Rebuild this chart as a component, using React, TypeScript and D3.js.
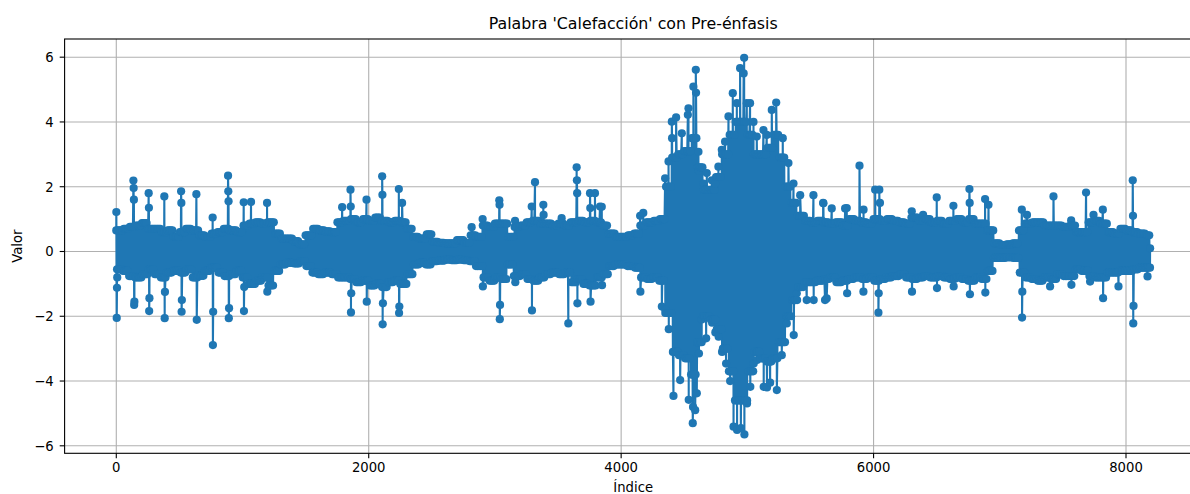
import React from "react";
import * as d3 from "d3";

// ---- data ----
const sampleCount = 8192;
const envStep = 50; // envelope read every 50 samples

// solid body of the signal: upper / lower extent read every 50 samples (index = k*50)
const envHigh = [
  0.65, 0.7, 0.76, 0.8, 0.88, 0.7, 0.7, 0.6, 0.65, 0.45, 0.6, 0.7, 0.65, 0.5, 0.45, 0.55, 0.6, 0.7, 0.65, 0.6,
  0.8, 0.86, 0.9, 0.86, 0.9, 0.55, 0.4, 0.4, 0.32, 0.22, 0.5, 0.7, 0.65, 0.62, 0.6, 0.9, 0.95, 1.0, 0.9, 1.0,
  0.95, 1.05, 0.95, 0.9, 0.95, 0.9, 0.7, 0.45, 0.4, 0.53, 0.3, 0.27, 0.25, 0.25, 0.35, 0.27, 0.5, 0.45, 0.8, 0.76,
  0.86, 0.86, 0.45, 0.76, 0.8, 0.9, 0.95, 0.86, 0.86, 0.8, 0.86, 0.8, 0.9, 0.95, 0.9, 0.95, 0.9, 0.8, 0.55, 0.45,
  0.45, 0.5, 0.55, 0.8, 0.9, 0.95, 1.0, 2.0, 2.9, 3.0, 3.1, 3.5, 2.6, 1.9, 1.9, 2.3, 3.0, 3.6, 4.0, 4.0,
  3.6, 3.0, 3.0, 3.2, 3.6, 2.9, 2.0, 1.5, 1.1, 0.95, 0.9, 0.95, 0.9, 0.86, 0.9, 0.8, 1.0, 0.95, 0.9, 0.86,
  1.0, 0.95, 1.0, 0.95, 0.9, 0.86, 1.05, 0.95, 1.0, 0.9, 0.95, 0.86, 0.95, 1.0, 0.9, 1.0, 0.86, 0.86, 0.65, 0.25,
  0.2, 0.22, 0.25, 0.65, 0.86, 0.9, 0.9, 0.8, 0.8, 0.8, 0.76, 0.8, 0.6, 0.6, 0.9, 0.95, 0.86, 0.6, 0.55, 0.7,
  0.65, 0.6, 0.55, 0.5,
];
const envLow = [
  -0.55, -0.6, -0.76, -0.8, -0.7, -0.55, -0.7, -0.8, -0.65, -0.6, -0.65, -0.55, -0.8, -0.75, -0.6, -0.5, -0.65, -0.76, -0.7, -0.6,
  -0.8, -1.0, -0.9, -0.8, -1.05, -0.6, -0.4, -0.35, -0.37, -0.3, -0.45, -0.65, -0.7, -0.65, -0.7, -0.8, -0.8, -0.85, -0.95, -0.9,
  -1.05, -1.0, -1.1, -0.95, -0.9, -1.0, -0.7, -0.4, -0.35, -0.4, -0.3, -0.28, -0.25, -0.27, -0.25, -0.27, -0.3, -0.45, -0.8, -0.9,
  -0.8, -0.85, -0.4, -0.76, -0.7, -0.85, -0.9, -0.8, -0.7, -0.65, -0.7, -0.65, -0.95, -0.85, -1.0, -1.05, -0.8, -0.7, -0.45, -0.4,
  -0.4, -0.45, -0.5, -0.8, -0.85, -0.8, -0.9, -1.9, -3.1, -3.2, -3.3, -3.8, -2.8, -2.0, -2.1, -2.4, -3.0, -3.7, -4.6, -4.6,
  -3.7, -3.1, -3.3, -3.4, -3.3, -2.8, -2.0, -1.5, -1.1, -0.95, -0.95, -0.9, -0.85, -0.8, -0.95, -0.9, -0.85, -0.8, -0.85, -0.8,
  -0.9, -0.85, -0.8, -0.76, -0.7, -0.8, -0.85, -0.8, -0.76, -0.8, -0.76, -0.8, -0.85, -0.8, -0.85, -0.9, -0.8, -0.85, -0.6, -0.2,
  -0.2, -0.18, -0.2, -0.65, -0.8, -0.85, -0.9, -0.8, -0.85, -0.7, -0.76, -0.76, -0.55, -0.6, -0.76, -0.8, -0.8, -0.65, -0.65, -0.6,
  -0.6, -0.55, -0.5, -0.5,
];

// individual samples that stick out of the body
const spikeIndex = [0, 3, 5, 7, 135, 137, 139, 141, 143, 256, 258, 260, 262, 380, 383, 385, 513, 515, 517, 519, 634, 637, 763, 765, 767, 885, 887, 889, 891, 893, 1009, 1011, 1013, 1067, 1194, 1196, 1789, 1855, 1857, 1859, 1861, 1982, 1984, 2106, 2108, 2110, 2112, 2238, 2240, 2242, 2264,
  2815, 2902, 2904, 3034, 3036, 3038, 3040, 3159, 3161, 3291, 3293, 3317, 3383, 3385, 3528, 3581, 3647, 3649, 3651, 3653, 3753, 3755, 3757, 3792, 3832, 3846, 3848, 4150, 4152, 4175, 4322,
  4348, 4350, 4375, 4377, 4401, 4403, 4414, 4435, 4467, 4480, 4528, 4533, 4535, 4567, 4569, 4572, 4586, 4591, 4593, 4599, 4612, 4614, 4616, 4638, 4652, 4673, 4678, 4718, 4720, 4744, 4746, 4770, 4772, 4797, 4799, 4823, 4831, 4850, 4863, 4884, 4890, 4916, 4918, 4942, 4948, 4970, 4974, 4976, 4995, 4997, 5021, 5023, 5048, 5050, 5074, 5076, 5127, 5129, 5153, 5155, 5180, 5193, 5228, 5233, 5272, 5280, 5312, 5325, 5365, 5367, 5391, 5418, 5470, 5523, 5525, 5602, 5628, 5668, 5774, 5790,
  5600, 5615, 5787, 5888, 5919, 5920, 6012, 6038, 6040, 6045, 6050, 6302, 6304, 6392, 6500, 6502, 6632, 6634, 6759, 6761, 6763, 6883, 6885, 6910, 7174, 7176, 7178, 7215, 7398, 7425, 7565, 7567, 7683, 7715, 7742, 7816, 7818, 7940, 8053, 8055, 8057, 8059, 8170];
const spikeValue = [1.22, -2.05, -1.12, -0.8, 2.19, 1.96, 1.6, -1.65, -1.55, 1.8, 1.35, -1.84, -1.44, 1.7, -2.06, -1.25, 1.86, 1.5, -1.86, -1.5, 1.77, -2.11, 1.05, -2.89, -1.86, 2.34, 1.86, 1.55, -2.06, -1.75, 1.52, -1.84, -1.1, 1.53, 1.5, -1.24, 1.37, 1.91, 1.39, -1.88, -1.29, 1.6, -1.55, 2.32, 1.75, -2.25, -1.6, 1.93, -1.9, -1.7, 1.5,
  0.75, 1.0, -1.08, 1.58, 1.44, -2.09, -1.65, 0.95, -0.95, 1.39, -1.82, 2.14, 1.44, 1.13, 1.03, -2.22, 2.6, 2.2, 1.8, -1.6, 1.8, 1.34, -1.55, 1.8, 1.39, 1.38, -1.04, 1.1, -1.24, 1.19, -1.7,
  2.26, -1.8, 2.78, -2.4, 4.01, 3.5, -4.46, 4.14, -3.97, 3.65, 4.22, 4.42, -4.58, -5.3, -4.8, 5.09, -4.9, 5.61, 4.9, -4.38, 3.08, 2.5, -3.15, -2.1, 2.1, -2.68, 2.42, 2.2, -2.2, 2.1, -2.5, 2.62, -2.63, 3.14, -3.1, 3.39, -3.46, 4.17, -4.0, 4.89, -5.41, 4.58, -5.51, 5.66, -5.45, 5.5, 5.98, -5.65, 4.58, -4.69, 4.58, -4.18, 4.0, -3.46, 3.55, -3.35, 3.75, -4.18, 3.6, -4.2, -4.05, 4.37, 4.6, -4.28, -3.2, 3.5, -2.22, 2.73, 2.1, -2.58, -1.29, 1.74, -1.5, 1.74, -1.5, 1.49, -1.45, 1.33, 1.33, -1.29,
  1.5, -1.5, 1.34, 2.65, -1.24, 1.29, 1.91, -1.89, -1.29, 1.91, 1.5, 1.24, -1.24, 1.13, 1.67, -1.13, 1.41, -1.08, 1.93, 1.5, -1.32, 1.62, -1.27, 1.44, 1.29, -2.04, -1.24, 1.13, -1.08, 1.7, 0.96, -1.03, 1.82, -0.93, 1.13, 1.29, -1.44, -1.08, 2.2, 1.1, -2.22, -1.68, -0.77];

const xTicks = [0, 2000, 4000, 6000, 8000];
const yTicks = [-6, -4, -2, 0, 2, 4, 6];

const titleText = "Palabra 'Calefacción' con Pre-énfasis";
const xLabel = "Índice";
const yLabel = "Valor";

// ---- build the sample sequence from the read values ----
function buildSeries(): [number, number][] {
  const pts: [number, number][] = [];
  let j = 0;
  for (let i = 0; i < sampleCount; i += 6, j++) {
    const k = Math.min(Math.floor(i / envStep), envHigh.length - 1);
    pts.push([i, j % 2 === 0 ? envHigh[k] : envLow[k]]);
  }
  pts.push([sampleCount - 1, 0.1]);
  spikeIndex.forEach((idx, k) => pts.push([idx + 0.5, spikeValue[k]]));
  pts.sort((a, b) => a[0] - b[0]);
  return pts;
}

const W = 1190;
const H = 494;
const left = 64.6;
const right = 1201.8;
const top = 39;
const bottom = 453.3;
const blue = "#1f77b4";
const font = "'DejaVu Sans', sans-serif";

export default function App() {
  const data = buildSeries();
  const xMin = 0;
  const xMax = sampleCount - 1;
  const xPad = (xMax - xMin) * 0.05;
  const yMaxV = d3.max(data, (d) => d[1]) as number;
  const yMinV = d3.min(data, (d) => d[1]) as number;
  const yPad = (yMaxV - yMinV) * 0.05;

  const x = d3.scaleLinear().domain([xMin - xPad, xMax + xPad]).range([left, right]);
  const y = d3.scaleLinear().domain([yMinV - yPad, yMaxV + yPad]).range([bottom, top]);

  const line = d3
    .line<[number, number]>()
    .x((d) => x(d[0]))
    .y((d) => y(d[1]));

  return (
    <svg
      width={W}
      height={H}
      style={{ position: "fixed", left: 0, top: 0, background: "#fff" }}
      fontFamily={font}
    >
      <rect x={0} y={0} width={W} height={H} fill="#fff" />
      {/* grid */}
      <g stroke="#b0b0b0" strokeWidth={1.1}>
        {xTicks.map((t) => (
          <line key={"gx" + t} x1={x(t)} x2={x(t)} y1={top} y2={bottom} />
        ))}
        {yTicks.map((t) => (
          <line key={"gy" + t} x1={left} x2={right} y1={y(t)} y2={y(t)} />
        ))}
      </g>
      {/* data */}
      <path d={line(data) || ""} fill="none" stroke={blue} strokeWidth={2.1} strokeLinejoin="round" />
      <g fill={blue}>
        {data.map((d, i) => (
          <circle key={i} cx={x(d[0])} cy={y(d[1])} r={4.1} />
        ))}
      </g>
      {/* spines */}
      <rect x={left} y={top} width={right - left} height={bottom - top} fill="none" stroke="#000" strokeWidth={1.1} />
      {/* x ticks */}
      <g>
        {xTicks.map((t) => (
          <g key={"xt" + t}>
            <line x1={x(t)} x2={x(t)} y1={bottom} y2={bottom + 4.9} stroke="#000" strokeWidth={1.1} />
            <text x={x(t)} y={bottom + 19} textAnchor="middle" fontSize={13.2} fill="#000">
              {String(t)}
            </text>
          </g>
        ))}
      </g>
      {/* y ticks */}
      <g>
        {yTicks.map((t) => (
          <g key={"yt" + t}>
            <line x1={left - 4.9} x2={left} y1={y(t)} y2={y(t)} stroke="#000" strokeWidth={1.1} />
            <text x={left - 11} y={y(t) + 4.8} textAnchor="end" fontSize={13.2} fill="#000">
              {t < 0 ? "\u2212" + Math.abs(t) : String(t)}
            </text>
          </g>
        ))}
      </g>
      <text x={(left + right) / 2} y={29} textAnchor="middle" fontSize={15.8} fill="#000">
        {titleText}
      </text>
      <text x={(left + right) / 2} y={492} textAnchor="middle" fontSize={13.2} fill="#000">
        {xLabel}
      </text>
      <text
        transform={`translate(22, ${(top + bottom) / 2}) rotate(-90)`}
        textAnchor="middle"
        fontSize={13.2}
        fill="#000"
      >
        {yLabel}
      </text>
    </svg>
  );
}
